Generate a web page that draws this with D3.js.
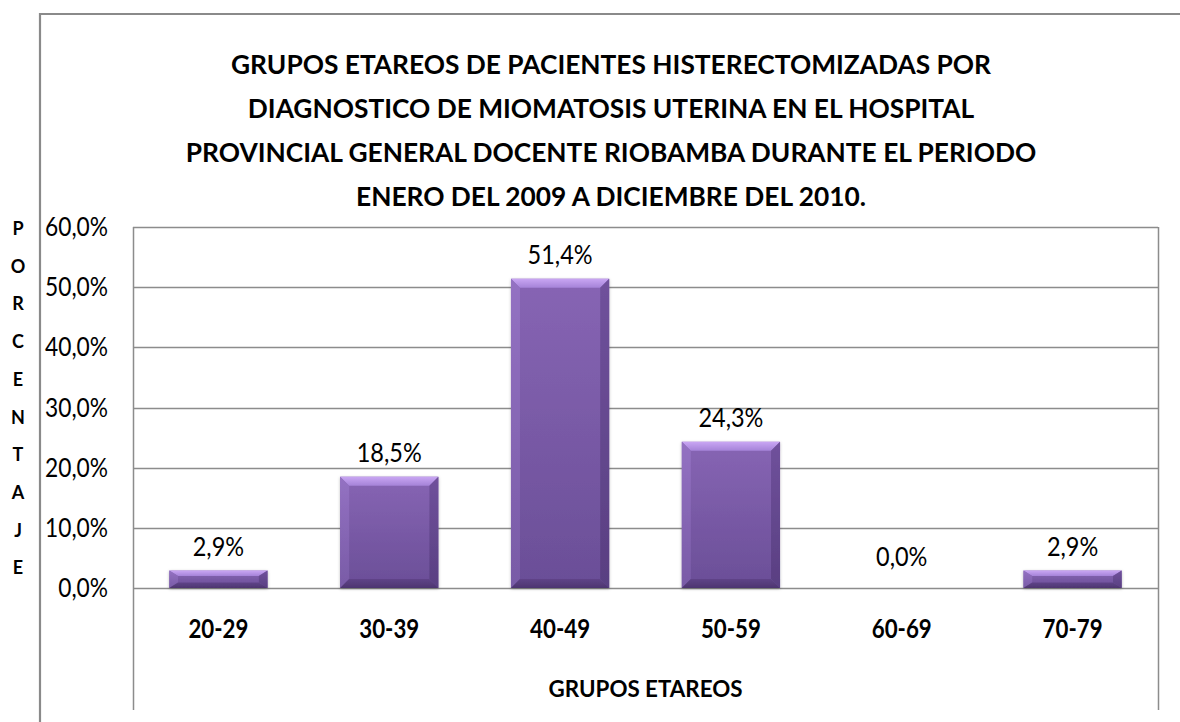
<!DOCTYPE html>
<html>
<head>
<meta charset="utf-8">
<script src="https://cdn.jsdelivr.net/npm/d3@7/dist/d3.min.js"></script>
<style>
  html, body { margin: 0; padding: 0; background: #fff; }
  svg { display: block; }
  text { font-family: Lato, "Open Sans", "Liberation Sans", Arial, sans-serif; fill: #000; }
</style>
</head>
<body>
<svg id="chart" width="1180" height="722"></svg>
<script>
const titleLines = [
  "GRUPOS ETAREOS DE PACIENTES HISTERECTOMIZADAS POR",
  "DIAGNOSTICO DE MIOMATOSIS UTERINA EN EL HOSPITAL",
  "PROVINCIAL GENERAL DOCENTE RIOBAMBA DURANTE EL PERIODO",
  "ENERO DEL 2009 A DICIEMBRE DEL 2010."
];
const categories = ["20-29", "30-39", "40-49", "50-59", "60-69", "70-79"];
const values = [0.029, 0.185, 0.514, 0.243, 0.0, 0.029];
const yTicks = [0, 0.1, 0.2, 0.3, 0.4, 0.5, 0.6];
const xAxisTitle = "GRUPOS ETAREOS";
const yAxisTitle = "PORCENTAJE";

const svg = d3.select("#chart");
const locale = d3.formatLocale({decimal: ",", thousands: ".", grouping: [3], currency: ["", ""]});
const fmt = locale.format(".1%");

const plot = {left: 133, right: 1158, top: 227, zero: 588, bottom: 710};

const x = d3.scaleBand().domain(categories).range([plot.left, plot.right])
  .paddingInner(0.425).paddingOuter(0.2125);
const y = d3.scaleLinear().domain([0, 0.6]).range([plot.zero, plot.top]);

// horizontally condense a text group so that a sample string gets a target width
function condense(sel, target) {
  const nodes = sel.nodes();
  const k = target / nodes[0].getComputedTextLength();
  nodes.forEach(n => {
    const w = n.getComputedTextLength();
    n.setAttribute("textLength", (w * k).toFixed(2));
    n.setAttribute("lengthAdjust", "spacingAndGlyphs");
  });
}

// outer chart border (top + left)
svg.append("path")
  .attr("d", "M40,722 L40,14 L1180,14")
  .attr("fill", "none").attr("stroke", "#8a8a8a").attr("stroke-width", 2.2);

// title
const titleSel = svg.append("g").selectAll("text").data(titleLines).join("text")
  .attr("x", 611).attr("y", (d, i) => 74 + i * 44)
  .attr("text-anchor", "middle")
  .attr("font-size", 26.5).attr("font-weight", "bold")
  .text(d => d);
condense(titleSel, 760);

// gridlines
svg.append("g").selectAll("line").data(yTicks).join("line")
  .attr("x1", plot.left).attr("x2", plot.right)
  .attr("y1", d => Math.round(y(d)) + 0.5).attr("y2", d => Math.round(y(d)) + 0.5)
  .attr("stroke", "#8c8c8c").attr("stroke-width", 1.5);

// plot area sides
[plot.left, plot.right].forEach(px => {
  svg.append("line")
    .attr("x1", px + 0.5).attr("x2", px + 0.5)
    .attr("y1", plot.top).attr("y2", plot.bottom)
    .attr("stroke", "#8c8c8c").attr("stroke-width", 1.5);
});

// y tick labels
const tickSel = svg.append("g").selectAll("text").data(yTicks.slice().reverse()).join("text")
  .attr("x", 108).attr("y", d => y(d) + 9)
  .attr("text-anchor", "end")
  .attr("font-size", 27.5)
  .text(d => fmt(d));
condense(tickSel, 63);

// y axis title stacked
svg.append("g").selectAll("text").data(yAxisTitle.split("")).join("text")
  .attr("x", 18).attr("y", (d, i) => 235 + i * 37.7)
  .attr("text-anchor", "middle")
  .attr("font-size", 18).attr("font-weight", "bold")
  .text(d => d);

// defs: gradients
const defs = svg.append("defs");
function grad(id, stops, vertical = true) {
  const g = defs.append("linearGradient").attr("id", id)
    .attr("x1", 0).attr("y1", 0).attr("x2", vertical ? 0 : 1).attr("y2", vertical ? 1 : 0);
  stops.forEach(s => g.append("stop").attr("offset", s[0]).attr("stop-color", s[1]));
}
grad("gMain", [[0, "#8765b4"], [1, "#6a4e97"]]);
grad("gTop", [[0, "#c9a6f3"], [1, "#a583d8"]]);
grad("gLeft", [[0, "#9573c4"], [1, "#7a5ca8"]]);
grad("gRight", [[0, "#6d4f99"], [1, "#573d7f"]]);
grad("gBottom", [[0, "#5f4488"], [1, "#4d3570"]]);
const f = defs.append("filter").attr("id", "shadow").attr("x", -0.2).attr("y", -0.2).attr("width", 1.4).attr("height", 1.4);
f.append("feDropShadow").attr("dx", 0).attr("dy", 1).attr("stdDeviation", 1.5).attr("flood-color", "#000").attr("flood-opacity", 0.25);

// bars with bevel
const data = categories.map((c, i) => ({c, v: values[i]}));
const bars = svg.append("g").selectAll("g").data(data.filter(d => d.v > 0)).join("g")
  .attr("filter", "url(#shadow)");
bars.each(function(d) {
  const g = d3.select(this);
  const x0 = x(d.c), x1 = x(d.c) + x.bandwidth();
  const y0 = y(d.v), y1 = y(0);
  const h = y1 - y0;
  const b = Math.min(9, h / 3.2);
  const bx = Math.min(9, b * 1.6);
  g.append("rect").attr("x", x0).attr("y", y0).attr("width", x1 - x0).attr("height", h).attr("fill", "url(#gMain)");
  g.append("path").attr("d", `M${x0},${y0} L${x1},${y0} L${x1 - bx},${y0 + b} L${x0 + bx},${y0 + b} Z`).attr("fill", "url(#gTop)");
  g.append("path").attr("d", `M${x0},${y0} L${x0 + bx},${y0 + b} L${x0 + bx},${y1 - b} L${x0},${y1} Z`).attr("fill", "url(#gLeft)").attr("opacity", 0.9);
  g.append("path").attr("d", `M${x1},${y0} L${x1 - bx},${y0 + b} L${x1 - bx},${y1 - b} L${x1},${y1} Z`).attr("fill", "url(#gRight)").attr("opacity", 0.9);
  g.append("path").attr("d", `M${x0},${y1} L${x0 + bx},${y1 - b} L${x1 - bx},${y1 - b} L${x1},${y1} Z`).attr("fill", "url(#gBottom)");
});

// data labels
const labelSel = svg.append("g").selectAll("text").data(data.slice().sort((a, b) => b.v - a.v)).join("text")
  .attr("x", d => x(d.c) + x.bandwidth() / 2)
  .attr("y", d => y(d.v) - (d.v > 0 ? 15 : 22))
  .attr("text-anchor", "middle")
  .attr("font-size", 27.5)
  .text(d => fmt(d.v));
condense(labelSel, 65);

// category labels
const catSel = svg.append("g").selectAll("text").data(categories).join("text")
  .attr("x", d => x(d) + x.bandwidth() / 2)
  .attr("y", 638)
  .attr("text-anchor", "middle")
  .attr("font-size", 26.5).attr("font-weight", "bold")
  .text(d => d);
condense(catSel, 60);

// x axis title
const xt = svg.append("text")
  .attr("x", (plot.left + plot.right) / 2).attr("y", 697)
  .attr("text-anchor", "middle")
  .attr("font-size", 23).attr("font-weight", "bold")
  .text(xAxisTitle);
condense(xt, 194);
</script>
</body>
</html>
